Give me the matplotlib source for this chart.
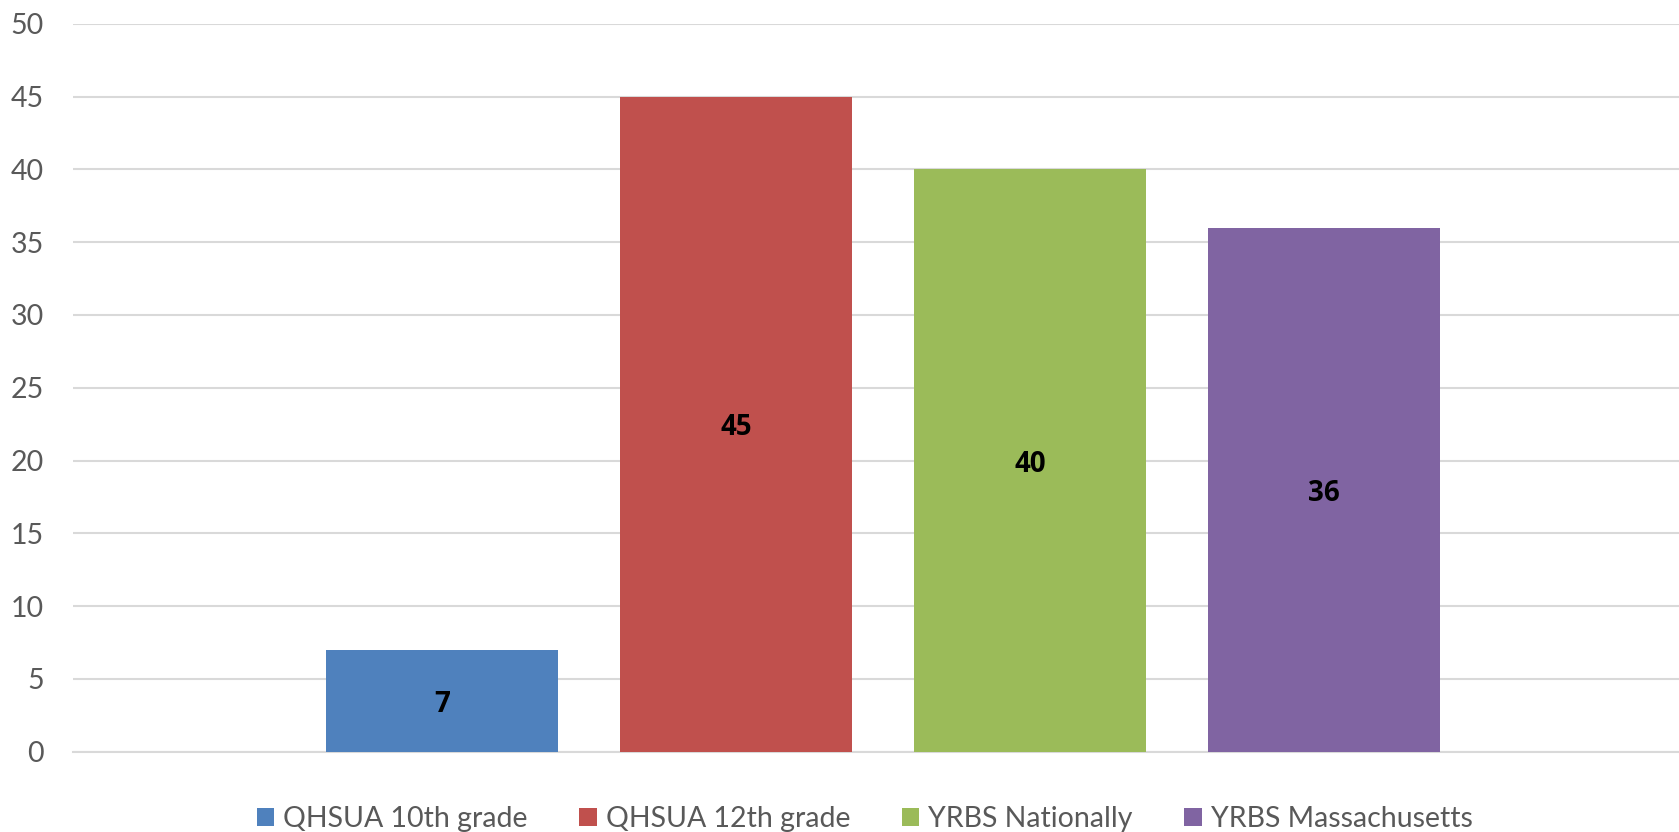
import matplotlib
matplotlib.use("Agg")
import matplotlib.pyplot as plt
from matplotlib.patches import Patch

# survey groups and percentages
groups = ["QHSUA 10th grade", "QHSUA 12th grade", "YRBS Nationally", "YRBS Massachusetts"]
values = [7, 45, 40, 36]
colors = ["#4F81BD", "#C0504D", "#9BBB59", "#8064A2"]
yticks = [0, 5, 10, 15, 20, 25, 30, 35, 40, 45, 50]

plt.rcParams["font.family"] = ["Lato", "DejaVu Sans"]

fig = plt.figure(figsize=(16.79, 8.32), dpi=100)
ax = fig.add_axes([0.0435, 0.0965, 0.9565, 0.875])

x = list(range(len(groups)))
bars = ax.bar(x, values, width=0.79, color=colors, zorder=3)

for b, v in zip(bars, values):
    ax.text(b.get_x() + b.get_width() / 2, v / 2, str(v), ha="center", va="center_baseline",
            fontsize=20, fontweight="bold", family=["Open Sans", "DejaVu Sans"],
            color="black", zorder=4)

ax.set_xlim(-1.255, 4.207)
ax.set_ylim(0, 50)
ax.set_yticks(yticks)
ax.set_xticks([])
ax.tick_params(axis="y", length=0, pad=21, labelsize=20.5, labelcolor="#595959")
ax.grid(axis="y", color="#d9d9d9", linewidth=1.5, zorder=0)
for s in ["top", "right", "left"]:
    ax.spines[s].set_visible(False)
ax.spines["bottom"].set_color("#d9d9d9")
ax.spines["bottom"].set_linewidth(1.5)

# legend sits at the very bottom edge, descenders run off the canvas
handles = [Patch(facecolor=c, edgecolor="none") for c in colors]
fig.legend(handles, groups, loc="lower center", ncol=4, frameon=False,
           bbox_to_anchor=(0.515, -0.031), fontsize=20.5, labelcolor="#595959",
           handlelength=0.62, handleheight=0.62, handletextpad=0.32, columnspacing=1.8)

fig.savefig("out.png", dpi=100)
